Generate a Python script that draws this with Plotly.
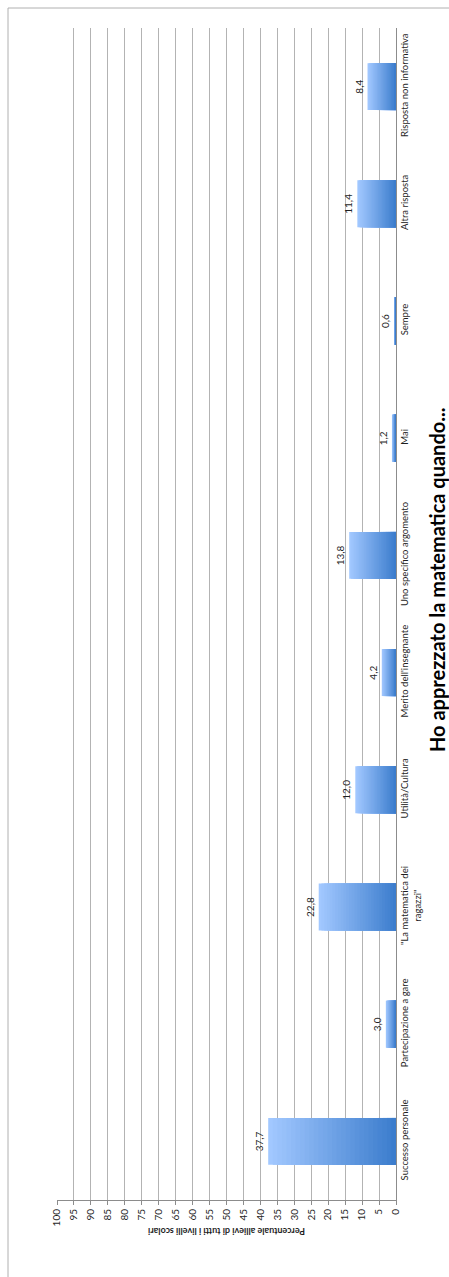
import plotly.graph_objects as go

# Survey answers: "Ho apprezzato la matematica quando..."
categories = [
    "Successo personale",
    "Partecipazione a gare",
    "\"La matematica dei<br>ragazzi\"",
    "Utilità/Cultura",
    "Merito dell'insegnante",
    "Uno specifico argomento",
    "Mai",
    "Sempre",
    "Altra risposta",
    "Risposta non informativa",
]
percentages = [37.7, 3.0, 22.8, 12.0, 4.2, 13.8, 1.2, 0.6, 11.4, 8.4]
value_ticks = list(range(0, 105, 5))

W, H = 449, 1277
ML, MR, MT, MB = 57, 53, 28, 77
plot_w = W - ML - MR
plot_h = H - MT - MB

FONT = "Lato"
TEXT = "#1f1f1f"

light = (162, 200, 255)
dark = (60, 125, 205)
steps = 28

fig = go.Figure()

# Horizontal gradient per bar: stacked overlays of shrinking length, darker toward zero
for k in range(steps):
    t = k / (steps - 1)
    r, g, b = (round(light[i] + (dark[i] - light[i]) * t) for i in range(3))
    frac = (steps - k) / steps
    fig.add_trace(go.Bar(
        x=[v * frac for v in percentages],
        y=categories,
        orientation="h",
        marker=dict(color=f"rgb({r},{g},{b})", line=dict(width=0)),
        width=0.4,
        hoverinfo="skip",
        showlegend=False,
        text=[f"{v:.1f}".replace(".", ",") for v in percentages] if k == 0 else None,
        textposition="outside" if k == 0 else "none",
        textangle=-90,
        textfont=dict(family=FONT, size=10, color=TEXT),
        cliponaxis=False,
    ))

fig.update_layout(
    width=W, height=H,
    margin=dict(l=ML, r=MR, t=MT, b=MB),
    paper_bgcolor="white",
    plot_bgcolor="white",
    barmode="overlay",
    separators=",.",
    font=dict(family=FONT, size=10, color=TEXT),
    xaxis=dict(
        range=[100, 0],
        tickvals=value_ticks,
        ticktext=[str(v) for v in value_ticks],
        tickangle=-90,
        showgrid=True, gridcolor="#b3b3b3", gridwidth=1,
        zeroline=False,
        showline=True, linecolor="#8c8c8c", linewidth=1,
        ticks="outside", ticklen=4, tickcolor="#8c8c8c",
        tickfont=dict(family=FONT, size=10, color=TEXT),
        fixedrange=True,
    ),
    yaxis=dict(
        side="right",
        categoryorder="array", categoryarray=categories,
        range=[-0.5, len(categories) - 0.5],
        tickangle=-90,
        showgrid=False,
        showline=True, linecolor="#8c8c8c", linewidth=1,
        ticks="",
        tickfont=dict(family=FONT, size=9.5, color=TEXT),
        fixedrange=True,
    ),
)

def px_x(p):
    return (p - ML) / plot_w

def px_y(p):
    return 1 - (p - MT) / plot_h

# Chart title, reading bottom-to-top along the right edge
fig.add_annotation(
    text="<b>Ho apprezzato la matematica quando...</b>",
    x=px_x(437), y=px_y(580), xref="paper", yref="paper",
    xanchor="center", yanchor="middle",
    textangle=-90, showarrow=False,
    font=dict(family=FONT, size=20, color="black"),
)

# Value-axis title, drawn upside down under the tick labels
fig.add_annotation(
    text="<b>Percentuale allievi di tutti i livelli scolari</b>",
    x=0.5, y=px_y(1232), xref="paper", yref="paper",
    xanchor="center", yanchor="middle",
    textangle=180, showarrow=False,
    font=dict(family=FONT, size=9, color=TEXT),
)

# Chart-area frame
fig.add_shape(
    type="rect", xref="paper", yref="paper",
    x0=px_x(8), x1=px_x(W + 20), y0=px_y(H + 20), y1=px_y(8),
    line=dict(color="#b0b0b0", width=1), fillcolor="rgba(0,0,0,0)",
    layer="below",
)

fig.write_html("out.html", config={"displayModeBar": False})
